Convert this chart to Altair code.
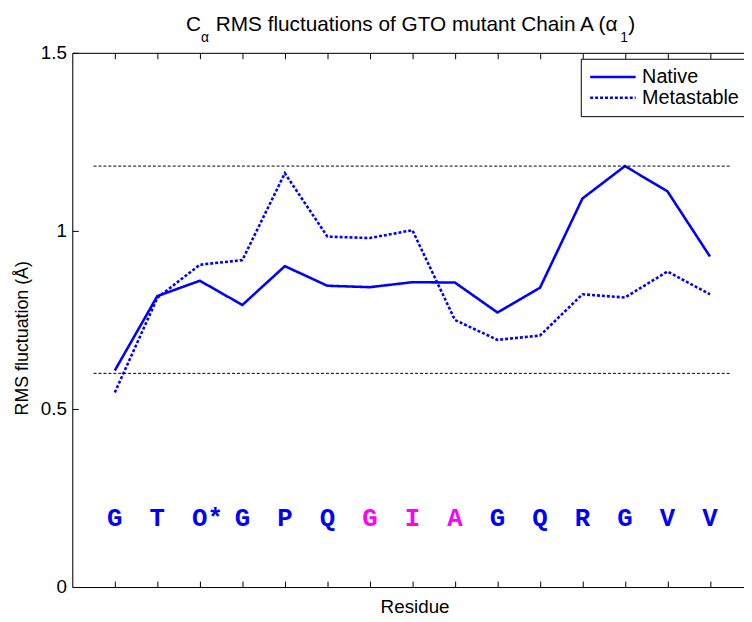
import altair as alt
import pandas as pd

# ---------------- data ----------------
residues = list(range(1, 16))
native = [0.608, 0.817, 0.860, 0.792, 0.901, 0.846, 0.842, 0.856, 0.855,
          0.771, 0.840, 1.091, 1.182, 1.111, 0.928]
metastable = [0.546, 0.812, 0.905, 0.918, 1.162, 0.984, 0.980, 1.002, 0.750,
              0.694, 0.706, 0.822, 0.813, 0.886, 0.822]
series = ["Native", "Metastable"]
letters = ["G", "T", "O*", "G", "P", "Q", "G", "I", "A", "G", "Q", "R", "G", "V", "V"]
letter_colors = ["#0000ff"] * 6 + ["#ff00ff"] * 3 + ["#0000ff"] * 6
letter_level = [0.2] * 15
ref_levels = [1.182, 0.600]
ref_start = [0.5, 0.5]
ref_end = [15.5, 15.5]
y_ticks = [0, 0.5, 1, 1.5]

# ---------------- tables ----------------
df_lines = pd.DataFrame({
    "residue": residues * 2,
    "rms": native + metastable,
    "series": [series[0]] * 15 + [series[1]] * 15,
})
df_rules = pd.DataFrame({"x0": ref_start, "x1": ref_end, "level": ref_levels})
df_letters = pd.DataFrame({"residue": residues, "level": letter_level,
                           "letter": letters, "color": letter_colors})
one = pd.DataFrame({"a": [0]})

W, H = 679, 540
FONT = "Liberation Sans"
BLUE = "#0000ff"

xs = alt.Scale(domain=[0, 15.8], nice=False, zero=False)
ys = alt.Scale(domain=[0, 1.5], nice=False)

legend = alt.Legend(
    title=None, orient="none", legendX=514, legendY=6,
    labelFont=FONT, labelFontSize=20, labelColor="black", labelOffset=5,
    symbolType="stroke", symbolSize=2116, symbolStrokeWidth=2.5,
    strokeColor="black", fillColor="white", padding=8, rowPadding=0,
    clipHeight=21, cornerRadius=0,
)

lines = alt.Chart(df_lines).mark_line(strokeWidth=2.6).encode(
    x=alt.X("residue:Q", scale=xs, axis=alt.Axis(
        orient="bottom", title="Residue", ticks=False, tickSize=0, labels=False,
        domain=True, domainColor="black", grid=False,
        titleX=346, titleY=26, titleBaseline="alphabetic", titleAlign="center",
        titleFont=FONT, titleFontSize=19, titleFontWeight="normal", titleColor="black")),
    y=alt.Y("rms:Q", scale=ys, axis=alt.Axis(
        orient="left", values=y_ticks, format="~g", ticks=False, tickSize=0,
        labelPadding=6, labelFont=FONT, labelFontSize=19, labelColor="black",
        domain=True, domainColor="black", grid=False,
        title="RMS fluctuation (Å)", titleAngle=270, titleX=-45, titleY=288,
        titleAlign="center", titleBaseline="alphabetic",
        titleFont=FONT, titleFontSize=18, titleFontWeight="normal", titleColor="black")),
    color=alt.Color("series:N", scale=alt.Scale(domain=series, range=[BLUE, BLUE]), legend=legend),
    strokeDash=alt.StrokeDash("series:N", scale=alt.Scale(domain=series, range=[[1, 0], [3, 2]]), legend=legend),
)

rules = alt.Chart(df_rules).mark_rule(color="black", strokeWidth=1, strokeDash=[3, 2]).encode(
    x=alt.X("x0:Q", scale=xs, axis=alt.Axis(
        orient="top", offset=-H, values=residues, ticks=True, tickSize=6,
        tickColor="black", labels=False, domain=False, grid=False, title=None)),
    x2="x1:Q",
    y=alt.Y("level:Q", scale=ys, axis=alt.Axis(
        orient="right", offset=-W, values=y_ticks, ticks=True, tickSize=6,
        tickColor="black", labels=False, domain=False, grid=False, title=None)),
)

text = alt.Chart(df_letters).mark_text(
    font="Liberation Mono", fontWeight="bold", fontSize=26,
    align="left", dx=-7.8, baseline="middle", dy=2,
).encode(
    x=alt.X("residue:Q", scale=xs, axis=alt.Axis(
        orient="bottom", offset=-H, values=residues, ticks=True, tickSize=6,
        tickColor="black", labels=False, domain=True, domainColor="black",
        grid=False, title=None)),
    y=alt.Y("level:Q", scale=ys, axis=None),
    text="letter:N",
    fill=alt.Fill("color:N", scale=None),
)


def piece(s, x, y, size):
    return alt.Chart(one).mark_text(
        font=FONT, fontSize=size, align="left", baseline="alphabetic", color="black"
    ).encode(x=alt.value(x), y=alt.value(y), text=alt.value(s))


title_parts = [
    piece("C", 115, -22, 21),
    piece("α", 130, -11, 14),
    piece("RMS fluctuations of GTO mutant Chain A (α", 145, -22, 21),
    piece("1", 554, -11, 14),
    piece(")", 562, -22, 21),
]

chart = alt.layer(lines, rules, text, *title_parts).resolve_axis(
    x="independent", y="independent"
).properties(
    width=W, height=H,
    autosize=alt.AutoSizeParams(type="none"),
    padding={"left": 65, "top": 42, "right": 0, "bottom": 30},
).configure_view(stroke=None).configure(background="white")

chart.save("out.html", embed_options={"renderer": "svg", "actions": False})
